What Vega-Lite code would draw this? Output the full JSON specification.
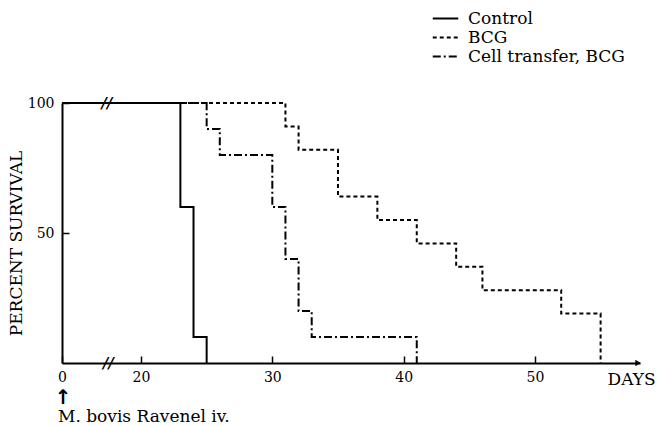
{
  "$schema": "https://vega.github.io/schema/vega-lite/v6.json",
  "width": 578,
  "height": 260,
  "autosize": "none",
  "padding": {"left": 62, "top": 103, "right": 26, "bottom": 63},
  "background": "white",
  "config": {
    "font": "DejaVu Serif",
    "view": {"stroke": null},
    "axis": {
      "domainColor": "black", "domainWidth": 2, "tickColor": "black", "tickWidth": 1.5,
      "labelColor": "black", "titleColor": "black", "grid": false,
      "labelFont": "DejaVu Serif", "titleFont": "DejaVu Serif",
      "labelFontSize": 14, "titleFontSize": 17, "titleFontWeight": "normal"
    },
    "legend": {"labelFont": "DejaVu Serif"}
  },
  "layer": [
    {
      "data": {"values": [
        {"series": "Control", "day": 0, "pct": 100},
        {"series": "Control", "day": 23, "pct": 60},
        {"series": "Control", "day": 24, "pct": 10},
        {"series": "Control", "day": 25, "pct": 0},
        {"series": "BCG", "day": 0, "pct": 100},
        {"series": "BCG", "day": 31, "pct": 91},
        {"series": "BCG", "day": 32, "pct": 82},
        {"series": "BCG", "day": 35, "pct": 64},
        {"series": "BCG", "day": 38, "pct": 55},
        {"series": "BCG", "day": 41, "pct": 46},
        {"series": "BCG", "day": 44, "pct": 37},
        {"series": "BCG", "day": 46, "pct": 28},
        {"series": "BCG", "day": 52, "pct": 19},
        {"series": "BCG", "day": 55, "pct": 0},
        {"series": "Cell transfer, BCG", "day": 0, "pct": 100},
        {"series": "Cell transfer, BCG", "day": 25, "pct": 90},
        {"series": "Cell transfer, BCG", "day": 26, "pct": 80},
        {"series": "Cell transfer, BCG", "day": 30, "pct": 60},
        {"series": "Cell transfer, BCG", "day": 31, "pct": 40},
        {"series": "Cell transfer, BCG", "day": 32, "pct": 20},
        {"series": "Cell transfer, BCG", "day": 33, "pct": 10},
        {"series": "Cell transfer, BCG", "day": 41, "pct": 0}
      ]},
      "mark": {"type": "line", "interpolate": "step-after", "strokeWidth": 2, "color": "black", "clip": false},
      "encoding": {
        "x": {
          "field": "day", "type": "quantitative",
          "scale": {"domain": [0, 17, 58], "range": [0, 39.6, 578], "nice": false, "zero": false},
          "axis": {
            "values": [0, 20, 30, 40, 50], "title": "DAYS", "titleX": 545, "titleY": 16,
            "titleAlign": "left", "titleBaseline": "middle", "titleAnchor": null,
            "tickSize": -7, "labelPadding": 14, "labelFlush": false
          }
        },
        "y": {
          "field": "pct", "type": "quantitative",
          "scale": {"domain": [0, 100], "nice": false},
          "axis": {
            "values": [50, 100], "title": "PERCENT SURVIVAL", "titleX": -46, "titleY": 140,
            "titleAlign": "center", "titleBaseline": "middle", "titleAngle": 270,
            "tickSize": -7, "labelPadding": 15
          }
        },
        "strokeDash": {
          "field": "series", "type": "nominal",
          "scale": {"domain": ["Control", "BCG", "Cell transfer, BCG"], "range": [[1, 0], [4, 3], [8, 3, 2, 3]]},
          "legend": {
            "title": null, "orient": "none", "legendX": 374, "legendY": -94,
            "symbolType": "M-1.5,0H1.5", "symbolSize": 289, "symbolStrokeWidth": 2, "symbolStrokeColor": "black",
            "labelFontSize": 17, "labelColor": "black", "labelFont": "DejaVu Serif", "labelOffset": 13, "rowPadding": 1, "padding": 0
          }
        }
      }
    },
    {
      "data": {"values": [{"day": 17.4, "pct": 100, "mark": "//"}, {"day": 17.5, "pct": 0, "mark": "//"}]},
      "mark": {"type": "text", "fontSize": 15, "fontWeight": "bold", "fontStyle": "italic", "baseline": "middle", "align": "center", "clip": false},
      "encoding": {
        "x": {"field": "day", "type": "quantitative"},
        "y": {"field": "pct", "type": "quantitative"},
        "text": {"field": "mark"}
      }
    },
    {
      "data": {"values": [{"day": 57.85, "pct": 0}]},
      "mark": {"type": "point", "shape": "triangle-right", "filled": true, "color": "black", "size": 40, "opacity": 1, "clip": false},
      "encoding": {
        "x": {"field": "day", "type": "quantitative"},
        "y": {"field": "pct", "type": "quantitative"}
      }
    },
    {
      "data": {"values": [{"day": 0, "pct": 0, "note": "↑"}]},
      "mark": {"type": "text", "font": "DejaVu Sans", "fontSize": 20, "fontWeight": "bold", "align": "center", "baseline": "middle", "dy": 35, "dx": 1, "clip": false},
      "encoding": {
        "x": {"field": "day", "type": "quantitative"},
        "y": {"field": "pct", "type": "quantitative"},
        "text": {"field": "note"}
      }
    },
    {
      "data": {"values": [{"day": 0, "pct": 0, "note": "M. bovis Ravenel iv."}]},
      "mark": {"type": "text", "fontSize": 17, "align": "left", "baseline": "alphabetic", "dy": 59, "dx": -4, "clip": false},
      "encoding": {
        "x": {"field": "day", "type": "quantitative"},
        "y": {"field": "pct", "type": "quantitative"},
        "text": {"field": "note"}
      }
    }
  ]
}
